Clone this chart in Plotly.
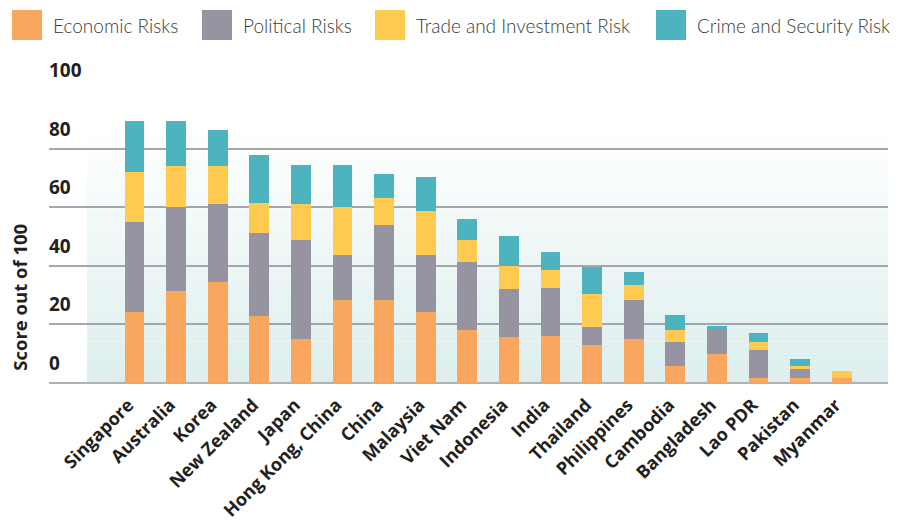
import plotly.graph_objects as go

countries = ["Singapore", "Australia", "Korea", "New Zealand", "Japan", "Hong Kong, China",
             "China", "Malaysia", "Viet Nam", "Indonesia", "India", "Thailand", "Philippines",
             "Cambodia", "Bangladesh", "Lao PDR", "Pakistan", "Myanmar"]
economic = [24.1, 31.4, 34.4, 22.8, 14.9, 28.3, 28.3, 24.1, 18.0, 15.6, 16.0, 12.9, 14.9, 5.7, 9.8, 1.9, 1.9, 1.9]
political = [30.8, 28.7, 26.7, 28.4, 33.9, 15.4, 25.6, 19.6, 23.3, 16.4, 16.4, 6.1, 13.4, 8.2, 8.2, 9.3, 2.8, 0.0]
trade = [17.1, 14.0, 13.0, 10.2, 12.3, 16.4, 9.2, 15.0, 7.5, 7.9, 6.1, 11.3, 5.1, 4.1, 0.0, 2.7, 1.0, 2.1]
crime = [17.5, 15.4, 12.3, 16.4, 13.3, 14.3, 8.3, 11.7, 7.2, 10.3, 6.2, 9.2, 4.4, 5.1, 1.4, 3.1, 2.4, 0.0]
series_names = ["Economic Risks", "Political Risks", "Trade and Investment Risk", "Crime and Security Risk"]
y_ticks = [0, 20, 40, 60, 80, 100]
y_title = "Score out of 100"

colors = ["#F9A65E", "#9594A0", "#FECB50", "#4DB3BE"]

# the page body adds an 8px offset; work in screen pixels and subtract it
OFF = 8
W, H = 906 - OFF, 527 - OFF
PLOT_L, PLOT_R, PLOT_T, PLOT_B = 49, 888, 89, 384   # screen pixels
ML, MR, MT, MB = PLOT_L - OFF, 906 - PLOT_R, PLOT_T - OFF, 527 - PLOT_B
PW, PH = W - ML - MR, H - MT - MB

def px_x(px):
    return (px - PLOT_L) / PW

def px_y(py):
    return (PLOT_B - py) / PH

fig = go.Figure()
for name, vals, col in zip(series_names, [economic, political, trade, crime], colors):
    fig.add_trace(go.Bar(x=countries, y=vals, name=name, marker=dict(color=col, line=dict(width=0)),
                         width=0.48, showlegend=False))

shapes = []
# vertical gradient background
n = 60
top_val = 87.0
for i in range(n):
    t = i / (n - 1)
    r = round(219 + (255 - 219) * t)
    g = round(238 + (255 - 238) * t)
    b = round(237 + (255 - 237) * t)
    shapes.append(dict(type="rect", xref="paper", yref="y", x0=px_x(87), x1=1.0,
                       y0=top_val * i / n, y1=top_val * (i + 1) / n + 0.05,
                       fillcolor=f"rgb({r},{g},{b})", line=dict(width=0), layer="below"))

annotations = []
# manual legend
sw_x = [12, 202, 375, 656]
tx_x = [53, 243, 416, 697]
for name, col, sx, tx in zip(series_names, colors, sw_x, tx_x):
    shapes.append(dict(type="rect", xref="paper", yref="paper", x0=px_x(sx), x1=px_x(sx + 30),
                       y0=px_y(40), y1=px_y(10), fillcolor=col, line=dict(width=0)))
    annotations.append(dict(text=name, xref="paper", yref="paper", x=px_x(tx - 2), y=px_y(25),
                            xanchor="left", yanchor="middle", showarrow=False,
                            font=dict(family="Lato", size=19, weight=300, color="#3a3a3a")))

for v in y_ticks:
    annotations.append(dict(text=str(v), xref="paper", yref="y", x=px_x(47), y=v, xanchor="left",
                            yanchor="middle", yshift=20, showarrow=False,
                            font=dict(family="Open Sans", size=19, weight="bold", color="#231f20")))

annotations.append(dict(text=y_title, xref="paper", yref="y", x=0, xshift=-29.5, y=29.3,
                        xanchor="center", yanchor="middle", textangle=-90, showarrow=False,
                        font=dict(family="Open Sans", size=18.5, weight="bold", color="#231f20")))

x_left = (PLOT_L - 134.5) / 41.6
x_right = x_left + PW / 41.6

fig.update_layout(
    width=W, height=H, barmode="stack",
    margin=dict(l=ML, r=MR, t=MT, b=MB, autoexpand=False),
    paper_bgcolor="white", plot_bgcolor="white",
    shapes=shapes, annotations=annotations,
    xaxis=dict(range=[x_left, x_right], tickangle=-45, showgrid=False, showline=False,
               ticks="", automargin=False, ticklabelshift=-6, ticklabelstandoff=6,
               tickfont=dict(family="Open Sans", size=18, weight="bold", color="#231f20")),
    yaxis=dict(range=[-0.3, 100.3], tickvals=y_ticks, showticklabels=False, showgrid=True,
               gridcolor="#a6a6ae", gridwidth=2, zeroline=True, zerolinecolor="#b0b0b8",
               zerolinewidth=2, automargin=False, showline=False),
)

fig.write_html("out.html")
